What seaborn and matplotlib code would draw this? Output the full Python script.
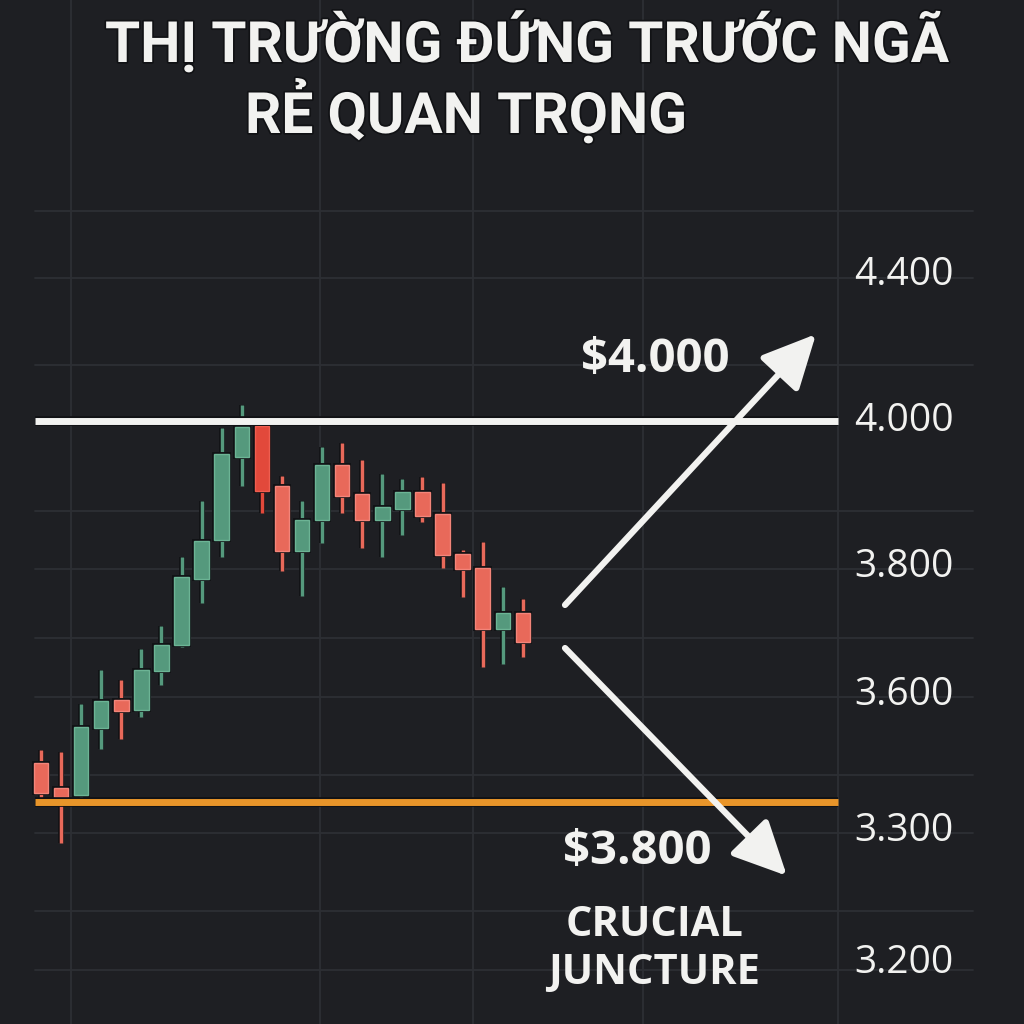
import numpy as np
import pandas as pd
import matplotlib
matplotlib.use("Agg")
import matplotlib.pyplot as plt
import matplotlib.patheffects as pe
import seaborn as sns

# ---------------- data ----------------
opens  = [3531, 3497, 3488, 3579, 3618, 3604, 3658, 3693, 3784, 3837, 3951, 3993, 3911,
          3822, 3864, 3940, 3900, 3864, 3879, 3903, 3873, 3818, 3799, 3715, 3737]
closes = [3490, 3485, 3581, 3616, 3603, 3659, 3693, 3786, 3836, 3955, 3992, 3904, 3822,
          3864, 3940, 3897, 3864, 3882, 3903, 3870, 3816, 3797, 3715, 3737, 3697]
highs  = [3549, 3547, 3612, 3659, 3645, 3688, 3719, 3814, 3890, 3990, 4022, 3995, 3925,
          3890, 3964, 3970, 3947, 3927, 3921, 3923, 3915, 3823, 3834, 3773, 3756]
lows   = [3481, 3422, 3474, 3551, 3564, 3595, 3638, 3690, 3751, 3814, 3911, 3874, 3795,
          3760, 3833, 3874, 3826, 3814, 3844, 3862, 3799, 3759, 3663, 3667, 3677]
highlight_candle = 11

tick_labels = ["4.400", "4.000", "3.800", "3.600", "3.300", "3.200"]
tick_values = [4200, 4000, 3800, 3625, 3438, 3257]
grid_levels = [4288, 4196, 4077, 3877, 3797, 3703, 3622, 3515, 3436, 3329, 3248]
grid_x = [1.5, 13.9, 21.5, 30.0, 39.7]

resistance = 4000
support = 3478
level_span = [-0.3, 39.7]

title_line1 = "THỊ TRƯỜNG ĐỨNG TRƯỚC NGÃ"
title_line2 = "RẺ QUAN TRỌNG"
up_label = "$4.000"
down_label = "$3.800"
note_label = "CRUCIAL\nJUNCTURE"

# ---------------- style ----------------
BG = "#1e1f23"
GRID = "#2d2f34"
GREEN = "#55997d"
GREEN_EDGE = "#6cb495"
RED = "#e8695a"
RED_EDGE = "#f3857a"
DARK_RED = "#e2493b"
WHITE = "#f2f2f0"
ORANGE = "#e8952a"
OUTLINE = "#111215"

sns.set_theme(style="dark", rc={"axes.facecolor": BG, "figure.facecolor": BG,
                                "savefig.facecolor": BG})

fig = plt.figure(figsize=(10.24, 10.24), dpi=100)
ax = fig.add_axes([0, 0, 1, 1])
ax.set_facecolor(BG)
ax.set_xlim(-2.042, 48.96)
ax.set_ylim(3174.0, 4576.7)
for s in ax.spines.values():
    s.set_visible(False)
ax.set_xticks([])
ax.set_yticks([])
ax.grid(False)

# grid
for g in grid_levels:
    ax.axhline(g, xmin=35 / 1024, xmax=973 / 1024, color=GRID, lw=1.3, zorder=0)
for gx in grid_x:
    ax.axvline(gx, color=GRID, lw=1.3, zorder=0)

# candles
df = pd.DataFrame({"open": opens, "close": closes, "high": highs, "low": lows})
df["idx"] = np.arange(len(df))
df["up"] = df["close"] >= df["open"]
colors = [GREEN if u else RED for u in df["up"]]
edges = [GREEN_EDGE if u else RED_EDGE for u in df["up"]]
colors[highlight_candle] = DARK_RED
edges[highlight_candle] = "#ef5e50"
df["color"] = colors

ax.vlines(df["idx"], df["low"], df["high"], colors=df["color"], lw=2.5, zorder=2,
          path_effects=[pe.Stroke(linewidth=4.2, foreground=OUTLINE), pe.Normal()])
bars = ax.bar(df["idx"], (df["close"] - df["open"]).abs(),
              bottom=df[["open", "close"]].min(axis=1), width=0.72,
              color=df["color"], edgecolor=edges, linewidth=1.0, zorder=3)
for p in bars.patches:
    p.set_path_effects([pe.Stroke(linewidth=2.8, foreground=OUTLINE), pe.Normal()])

# level lines
lvl = pd.DataFrame({"x": level_span * 2,
                    "y": [resistance, resistance, support, support],
                    "kind": ["res", "res", "sup", "sup"]})
sns.lineplot(data=lvl, x="x", y="y", hue="kind", palette={"res": WHITE, "sup": ORANGE},
             lw=5, legend=False, ax=ax, zorder=4, solid_capstyle="butt",
             path_effects=[pe.Stroke(linewidth=7, foreground=OUTLINE, capstyle="butt"),
                           pe.Normal()])

# tick labels on the right
for lab, v in zip(tick_labels, tick_values):
    ax.text(43.0, v, lab, ha="center", va="center", color=WHITE, fontsize=28,
            family="Open Sans", zorder=5)

# arrows
arrow_kw = dict(arrowstyle="-|>,head_length=1.65,head_width=0.8", color=WHITE,
                lw=4.5, mutation_scale=20, shrinkA=0, shrinkB=0)
ax.annotate("", xy=(38.6, 4119), xytext=(26.1, 3748), arrowprops=arrow_kw, zorder=6)
ax.annotate("", xy=(37.15, 3377), xytext=(26.1, 3689), arrowprops=arrow_kw, zorder=6)

# labels
ax.text(30.6, 4084, up_label, ha="center", va="center", color=WHITE, fontsize=34,
        fontweight="bold", family="Open Sans", zorder=7)
ax.text(29.7, 3410, down_label, ha="center", va="center", color=WHITE, fontsize=34,
        fontweight="bold", family="Open Sans", zorder=7)
ax.text(30.55, 3276, note_label, ha="center", va="center", color=WHITE, fontsize=30,
        fontweight="bold", family="Open Sans", linespacing=1.2, zorder=7)

# title
outline_fx = [pe.Stroke(linewidth=2.5, foreground=OUTLINE), pe.Normal()]
fig.text(105 / 1024, 1 - 62 / 1024, title_line1, ha="left", va="baseline", color=WHITE,
         fontsize=41, fontweight="bold", family="Roboto", path_effects=outline_fx)
fig.text(245 / 1024, 1 - 133 / 1024, title_line2, ha="left", va="baseline", color=WHITE,
         fontsize=41, fontweight="bold", family="Roboto", path_effects=outline_fx)

fig.savefig("out.png", dpi=100, facecolor=BG)
